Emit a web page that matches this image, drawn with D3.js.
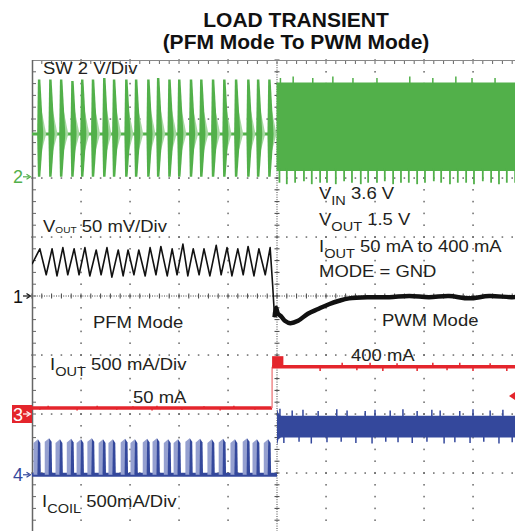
<!DOCTYPE html>
<html><head><meta charset="utf-8">
<script src="https://cdn.jsdelivr.net/npm/d3@7"></script>
<style>html,body{margin:0;padding:0;background:#fff;overflow:hidden}</style>
</head><body>
<svg id="c" width="515" height="531"></svg>
<script>
// ---------------- data (time in divisions from trigger) ----------------
const titleLines = ["LOAD TRANSIENT", "(PFM Mode To PWM Mode)"];
// PFM burst instants (shared by SW and I_COIL)
const burstT = [-4.88,-4.65,-4.43,-4.20,-4.00,-3.78,-3.55,-3.35,-3.10,-2.90,-2.65,-2.45,-2.22,-2.02,-1.78,-1.57,-1.33,-1.10,-0.86,-0.61,-0.41,-0.18];
// SW node (V)
const swBurstTopV = [3.3,3.3,3.3,3.25,3.3,3.3,3.35,3.3,3.3,3.3,3.3,3.35,3.3,3.3,3.3,3.3,3.3,3.3,3.3,3.3,3.3,3.3];
const swIdleV = 1.45;
const swPwmT = [-0.01, 5.0];
const swPwmHighV = [3.2, 3.2];
const swPwmLowV = [0.2, 0.2];
const swTopSpikeT = [0.07,0.33,0.73,1.14,1.55,2.04,2.71,3.18,3.65,3.98,4.45,4.90];
const swTopSpikeV = [3.35,3.4,3.35,3.4,3.35,3.35,3.4,3.35,3.4,3.35,3.35,3.4];
const swLowSpikeT = [0.05,0.2,0.37,0.55,0.71,0.88,1.02,1.2,1.37,1.53,1.71,1.86,2.04,2.2,2.37,2.53,2.69,2.86,3.02,3.2,3.35,3.53,3.69,3.86,4.02,4.2,4.37,4.53,4.69,4.86];
const swLowSpikeV = [-0.2,-0.25,-0.2,-0.15,-0.25,-0.2,-0.2,-0.25,-0.15,-0.2,-0.25,-0.2,-0.2,-0.15,-0.25,-0.2,-0.2,-0.25,-0.2,-0.15,-0.2,-0.25,-0.2,-0.2,-0.25,-0.15,-0.2,-0.25,-0.2,-0.2];
// V_OUT (mV, AC relative to marker 1)
const voutPfmT = [-5.00,-4.84,-4.71,-4.59,-4.49,-4.37,-4.27,-4.14,-4.04,-3.92,-3.82,-3.69,-3.59,-3.47,-3.37,-3.24,-3.14,-3.04,-2.92,-2.82,-2.69,-2.59,-2.47,-2.37,-2.24,-2.14,-2.04,-1.92,-1.82,-1.71,-1.59,-1.49,-1.37,-1.24,-1.14,-1.02,-0.92,-0.80,-0.69,-0.59,-0.47,-0.37,-0.24,-0.14,-0.09,-0.05];
const voutPfmMv = [27,40,18,40,17,41,18,40,18,41,17,39,18,41,16,39,17,39,18,39,17,41,18,42,17,40,18,44,17,40,18,40,17,43,18,41,17,40,18,42,17,40,18,41,10,-18];
const voutPwmT = [-0.05,-0.02,0.02,0.08,0.16,0.27,0.43,0.63,0.84,1.06,1.27,1.47,1.88,2.29,2.70,3.10,3.51,3.92,4.33,4.80,5.0];
const voutPwmMv = [-18,-10,-15,-17,-21,-23,-21,-15,-11,-7,-4,-2,-1,-1,0,-1,0,-2,0,-1,0];
// I_OUT (mA)
const ioutPreT = [-5.0, -0.10];
const ioutPostT = [-0.10, 5.0];
const ioutLevelMa = [50, 400];
const ioutOvershootT = [-0.10, 0.13];
const ioutOvershootMa = 490;
const ioutSpikeT = [-4.84,-4.67,-4.08,-3.67,-3.27,-2.94,-2.55,-2.45,-1.94,-1.49,-1.16,-0.88,-0.45,0.88,1.33,1.63,1.90,2.16,2.45,2.86,3.18,3.47,3.73,4.0,4.35,4.69];
const ioutSpikeMa = [35,70,30,70,35,65,30,70,35,65,30,70,35,-35,35,-30,35,-35,30,-35,35,-30,35,-35,30,-35];
// I_COIL (mA)
const coilPeakMa = [300,310,300,305,300,310,300,300,305,300,305,310,300,300,310,305,300,305,300,310,300,300];
const coilPwmT = [0.0, 0.03, 0.08, 5.0];
const coilCoreHighMa = [560, 520, 500, 500];
const coilCoreLowMa = [250, 300, 315, 315];
const coilTopSpikeT = [0.06,0.31,0.53,0.84,1.22,1.43,1.8,2.0,2.31,2.57,2.86,3.16,3.33,3.73,4.0,4.35,4.61,4.9];
const coilTopSpikeMa = [560,545,550,540,555,545,540,550,545,555,540,550,545,540,555,545,550,540];
const coilLowSpikeT = [0.14,0.45,0.7,1.02,1.31,1.61,1.94,2.22,2.47,2.76,3.06,3.41,3.63,3.94,4.22,4.53,4.8];
const coilLowSpikeMa = [270,280,265,275,280,270,265,280,275,270,280,265,275,270,280,265,275];
// labels
const scales = {sw:"SW 2 V/Div", vout:" 50 mV/Div", iout:" 500 mA/Div", coil:" 500mA/Div"};

// ---------------- scales ----------------
const svg = d3.select("#c");
const x = d3.scaleLinear().domain([-5, 5]).range([32, 522]);
const yDiv = d3.scaleLinear().domain([4, -4]).range([60, 532]);
const ch = {
  sw:   {zero: 2.02,  perDiv: 2},
  vout: {zero: 0,     perDiv: 50},
  iout: {zero: -2.0,  perDiv: 500},
  coil: {zero: -3.03, perDiv: 500}
};
const yc = (c, v) => yDiv(ch[c].zero + v / ch[c].perDiv);

const GREEN = "#52b04a", GREEN_L = "#a6d8a1", RED = "#e4252c", RED_L = "#f08a8c",
      BLUE = "#34489c", BLUE_L = "#95a0d0", TXT = "#231f20";

svg.append("defs").append("clipPath").attr("id", "plot")
  .append("rect").attr("x", 32).attr("y", 60).attr("width", 483).attr("height", 471);

// ---------------- grid ----------------
const grid = svg.append("g").attr("fill", "#555");
for (let k = 1; k <= 9; k++) {
  if (k === 5) continue;
  const gx = x(-5 + k);
  for (let j = 0; j <= 40; j++) {
    grid.append("rect").attr("x", gx - 0.6).attr("y", yDiv(4 - j * 0.2) - 0.8).attr("width", 1.3).attr("height", 1.6);
  }
}
for (let k = 1; k <= 7; k++) {
  if (k === 4) continue;
  const gy = yDiv(4 - k);
  for (let j = 0; j <= 50; j++) {
    grid.append("rect").attr("x", x(-5 + j * 0.2) - 0.8).attr("y", gy - 0.6).attr("width", 1.6).attr("height", 1.3);
  }
}
const cx = x(0), cy = yDiv(0);
svg.append("line").attr("x1", cx).attr("x2", cx).attr("y1", 60).attr("y2", 531)
  .attr("stroke", "#444").attr("stroke-width", 1).attr("stroke-dasharray", "1,1.4");
svg.append("line").attr("x1", 32).attr("x2", 515).attr("y1", cy).attr("y2", cy)
  .attr("stroke", "#444").attr("stroke-width", 1).attr("stroke-dasharray", "1,1.4");
for (let j = 0; j <= 40; j++) {
  const ty = yDiv(4 - j * 0.2);
  svg.append("line").attr("x1", cx - 2.5).attr("x2", cx + 2.5).attr("y1", ty).attr("y2", ty).attr("stroke", "#444").attr("stroke-width", 1);
}
for (let j = 0; j <= 50; j++) {
  const tx = x(-5 + j * 0.2);
  svg.append("line").attr("x1", tx).attr("x2", tx).attr("y1", cy - 2.5).attr("y2", cy + 2.5).attr("stroke", "#444").attr("stroke-width", 1);
}
svg.append("line").attr("x1", 32).attr("x2", 515).attr("y1", 60.5).attr("y2", 60.5).attr("stroke", "#888").attr("stroke-width", 1);
svg.append("line").attr("x1", 32.5).attr("x2", 32.5).attr("y1", 60).attr("y2", 531).attr("stroke", "#666").attr("stroke-width", 1.5);
for (let j = 1; j <= 50; j++) {
  const tx = x(-5 + j * 0.2);
  svg.append("line").attr("x1", tx).attr("x2", tx).attr("y1", 61).attr("y2", 64).attr("stroke", "#666").attr("stroke-width", 1);
}
for (let j = 1; j <= 40; j++) {
  const ty = yDiv(4 - j * 0.2);
  svg.append("line").attr("x1", 33).attr("x2", 36).attr("y1", ty).attr("y2", ty).attr("stroke", "#666").attr("stroke-width", 1);
}

const plot = svg.append("g").attr("clip-path", "url(#plot)");
function spikes(c, ts, vs, base, color, w) {
  ts.forEach((t, i) => plot.append("line").attr("x1", x(t)).attr("x2", x(t))
    .attr("y1", yc(c, base)).attr("y2", yc(c, vs[i])).attr("stroke", color).attr("stroke-width", w));
}

// ---------------- SW (ch2) ----------------
plot.append("line").attr("x1", x(-5)).attr("x2", x(burstT[burstT.length - 1] + 0.15))
  .attr("y1", yc("sw", swIdleV)).attr("y2", yc("sw", swIdleV)).attr("stroke", GREEN).attr("stroke-width", 3);
burstT.forEach((t, i) => {
  const top = swBurstTopV[i];
  plot.append("path").attr("fill", GREEN_L).attr("d", d3.line()([
    [x(t + 0.05), yc("sw", top * 0.75)], [x(t + 0.17), yc("sw", swIdleV)], [x(t + 0.05), yc("sw", 0.7)]
  ]) + "Z");
  plot.append("path").attr("fill", GREEN).attr("d", d3.line()([
    [x(t - 0.015), yc("sw", swIdleV)], [x(t), yc("sw", top)], [x(t + 0.05), yc("sw", top)],
    [x(t + 0.11), yc("sw", swIdleV)], [x(t + 0.05), yc("sw", 0)], [x(t), yc("sw", 0)]
  ]) + "Z");
});
plot.append("path").attr("fill", GREEN).attr("d",
  d3.area().x((d, i) => x(swPwmT[i])).y0((d, i) => yc("sw", swPwmLowV[i])).y1((d, i) => yc("sw", swPwmHighV[i]))(swPwmT));
spikes("sw", swTopSpikeT, swTopSpikeV, 3.1, GREEN, 1.5);
spikes("sw", swLowSpikeT, swLowSpikeV, 0.3, GREEN, 1.8);

// ---------------- I_OUT (ch3) ----------------
plot.append("line").attr("x1", x(ioutPreT[0])).attr("x2", x(ioutPreT[1]))
  .attr("y1", yc("iout", ioutLevelMa[0])).attr("y2", yc("iout", ioutLevelMa[0])).attr("stroke", RED).attr("stroke-width", 3.5);
plot.append("line").attr("x1", x(ioutPostT[0])).attr("x2", x(ioutPostT[0]))
  .attr("y1", yc("iout", ioutLevelMa[0])).attr("y2", yc("iout", ioutLevelMa[1])).attr("stroke", RED_L).attr("stroke-width", 1.5);
plot.append("rect").attr("x", x(ioutOvershootT[0])).attr("width", x(ioutOvershootT[1]) - x(ioutOvershootT[0]))
  .attr("y", yc("iout", ioutOvershootMa)).attr("height", yc("iout", ioutLevelMa[1]) - yc("iout", ioutOvershootMa)).attr("fill", RED);
plot.append("line").attr("x1", x(ioutPostT[0])).attr("x2", x(ioutPostT[1]))
  .attr("y1", yc("iout", ioutLevelMa[1])).attr("y2", yc("iout", ioutLevelMa[1])).attr("stroke", RED).attr("stroke-width", 3.5);
ioutSpikeT.forEach((t, i) => {
  const base = t < 0 ? ioutLevelMa[0] : ioutLevelMa[1];
  plot.append("line").attr("x1", x(t)).attr("x2", x(t)).attr("y1", yc("iout", base)).attr("y2", yc("iout", base + ioutSpikeMa[i] - (t < 0 ? 50 : 0)))
    .attr("stroke", RED).attr("stroke-width", 1.5);
});

// ---------------- I_COIL (ch4) ----------------
plot.append("line").attr("x1", x(-5)).attr("x2", x(0.0))
  .attr("y1", yc("coil", 0)).attr("y2", yc("coil", 0)).attr("stroke", BLUE).attr("stroke-width", 4);
burstT.forEach((t, i) => {
  const pk = coilPeakMa[i];
  plot.append("path").attr("fill", BLUE_L).attr("d", d3.line()([
    [x(t - 0.09), yc("coil", 0)], [x(t - 0.09), yc("coil", pk * 0.9)], [x(t), yc("coil", pk)], [x(t), yc("coil", 0)]
  ]) + "Z");
  plot.append("path").attr("fill", BLUE).attr("d", d3.line()([
    [x(t - 0.01), yc("coil", 0)], [x(t), yc("coil", pk)], [x(t + 0.05), yc("coil", pk * 0.9)], [x(t + 0.06), yc("coil", 0)]
  ]) + "Z");
});
plot.append("path").attr("fill", BLUE).attr("d",
  d3.area().x((d, i) => x(coilPwmT[i])).y0((d, i) => yc("coil", coilCoreLowMa[i])).y1((d, i) => yc("coil", coilCoreHighMa[i]))(coilPwmT));
spikes("coil", coilTopSpikeT, coilTopSpikeMa, 490, BLUE, 1.5);
spikes("coil", coilLowSpikeT, coilLowSpikeMa, 320, BLUE, 1.5);

// ---------------- V_OUT (ch1) ----------------
plot.append("path").attr("fill", "none").attr("stroke", "#111").attr("stroke-width", 1.6).attr("stroke-linejoin", "round")
  .attr("d", d3.line().x((d, i) => x(voutPfmT[i])).y((d) => yc("vout", d))(voutPfmMv));
plot.append("path").attr("fill", "none").attr("stroke", "#111").attr("stroke-width", 4.5).attr("stroke-linejoin", "round")
  .attr("d", d3.line().curve(d3.curveCatmullRom).x((d, i) => x(voutPwmT[i])).y((d) => yc("vout", d))(voutPwmMv));

// trigger level marker (ch3) at right edge
svg.append("path").attr("fill", RED).attr("d", "M509,396L515,392L515,400Z");

// ---------------- channel markers ----------------
function marker(y, label, color, boxed) {
  const g = svg.append("g");
  if (boxed) g.append("rect").attr("x", 12).attr("y", y - 9).attr("width", 20).attr("height", 18).attr("fill", RED);
  const fc = boxed ? "#fff" : color;
  g.append("text").attr("x", 13).attr("y", y + 6.5).attr("font-family", "Liberation Sans, Arial, sans-serif")
    .attr("font-size", 18).attr("fill", fc).text(label);
  g.append("line").attr("x1", 23).attr("x2", 29).attr("y1", y).attr("y2", y).attr("stroke", fc).attr("stroke-width", 1.2);
  g.append("path").attr("d", `M26.5,${y - 2.5}L30.5,${y}L26.5,${y + 2.5}`).attr("fill", "none").attr("stroke", fc).attr("stroke-width", 1.2);
}
marker(yc("sw", 0), "2", GREEN, false);
marker(yc("vout", 0), "1", "#111", false);
marker(yc("iout", 0), "3", RED, true);
marker(yc("coil", 0), "4", BLUE, false);

// ---------------- texts ----------------
const FONT = "Liberation Sans, Arial, Helvetica, sans-serif";
svg.selectAll("text.title").data(titleLines).join("text").attr("class", "title")
  .attr("x", 296).attr("y", (d, i) => 27 + i * 22).attr("text-anchor", "middle")
  .attr("font-family", FONT).attr("font-weight", "bold").attr("font-size", 21).attr("fill", "#111").text(d => d);

function label(px, py, parts) {
  const t = svg.append("text").attr("transform", `translate(${px},${py}) scale(1.12,1)`)
    .attr("font-family", FONT).attr("fill", TXT).attr("font-size", 16.5);
  parts.forEach(p => {
    const s = t.append("tspan").text(p[0]);
    if (p[1]) s.attr("font-size", p[1]);
    if (p[2]) s.attr("dy", p[2]);
  });
}
label(43, 74, [[scales.sw]]);
label(43, 232, [["V"], ["OUT", 9, 1], [scales.vout, null, -1]]);
label(319, 199, [["V"], ["IN", 13, 6], [" 3.6 V", null, -6]]);
label(319, 225, [["V"], ["OUT", 13, 6], [" 1.5 V", null, -6]]);
label(319, 252, [["I"], ["OUT", 13, 6], ["  50 mA to 400 mA", null, -6]]);
label(319, 277, [["MODE = GND"]]);
label(93, 328, [["PFM Mode"]]);
label(382, 326, [["PWM Mode"]]);
label(50, 370, [["I"], ["OUT", 13, 6], [scales.iout, null, -6]]);
label(133, 403, [["50 mA"]]);
label(351, 361, [["400 mA"]]);
label(42, 507, [["I"], ["COIL", 13, 6], [scales.coil, null, -6]]);
</script>
</body></html>
